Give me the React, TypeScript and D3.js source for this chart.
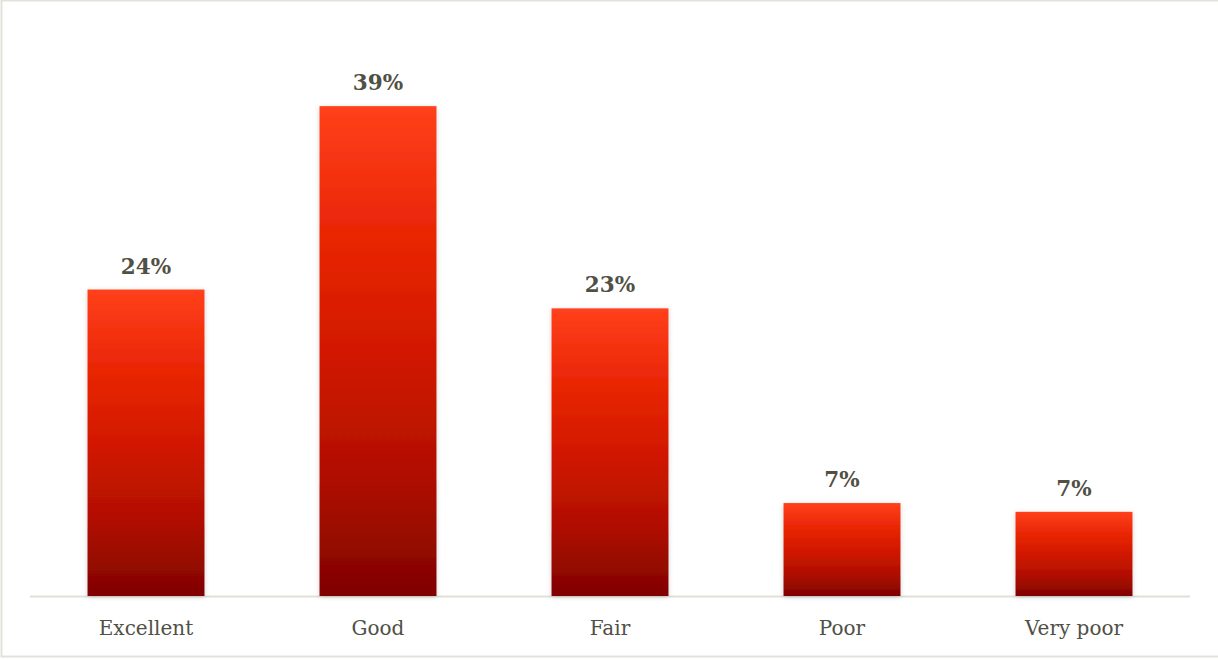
import React from "react";
import * as d3 from "d3";

const categories = ["Excellent", "Good", "Fair", "Poor", "Very poor"];
const values = [24.4, 39.0, 22.9, 7.4, 6.7];

const W = 1218;
const H = 660;
const margin = { left: 30, right: 28, top: 93, bottom: 64 };

export default function App() {
  const x = d3
    .scaleBand<string>()
    .domain(categories)
    .range([margin.left, W - margin.right])
    .paddingInner(0.496)
    .paddingOuter(0.248);
  const y = d3.scaleLinear().domain([0, 40]).range([H - margin.bottom, H - margin.bottom - 40 * 12.56]);
  const base = y(0);
  const font = "'DejaVu Serif', serif";
  return (
    <svg width={W} height={H} style={{ position: "fixed", left: 0, top: 0, background: "#fff" }}>
      <defs>
        <linearGradient id="barGrad" x1="0" y1="0" x2="0" y2="1">
          <stop offset="0" stopColor="#ff401b" />
          <stop offset="0.25" stopColor="#ea2706" />
          <stop offset="0.5" stopColor="#d21800" />
          <stop offset="0.75" stopColor="#b10f00" />
          <stop offset="1" stopColor="#800300" />
        </linearGradient>
        <filter id="shadow" x="-10%" y="-10%" width="120%" height="120%">
          <feDropShadow dx="0" dy="1" stdDeviation="2.5" floodColor="#000" floodOpacity="0.18" />
        </filter>
      </defs>
      <rect x={1.5} y={0.5} width={W + 2} height={656} fill="#fff" stroke="#e2e2dc" strokeWidth={2} />
      <line x1={margin.left} x2={W - margin.right} y1={base + 0.5} y2={base + 0.5} stroke="#e0e0da" strokeWidth={2} />
      {categories.map((c, i) => {
        const bx = x(c)!;
        const top = y(values[i]);
        return (
          <g key={c}>
            <rect
              x={bx}
              y={top}
              width={x.bandwidth()}
              height={base - top}
              fill="url(#barGrad)"
              filter="url(#shadow)"
            />
            <text
              x={bx + x.bandwidth() / 2}
              y={top - 16}
              textAnchor="middle"
              fontFamily={font}
              fontWeight="bold"
              fontSize={21.5}
              fill="#505044"
            >
              {Math.round(values[i])}%
            </text>
            <text
              x={bx + x.bandwidth() / 2}
              y={base + 39}
              textAnchor="middle"
              fontFamily={font}
              fontSize={20}
              fill="#505046"
            >
              {c}
            </text>
          </g>
        );
      })}
    </svg>
  );
}
